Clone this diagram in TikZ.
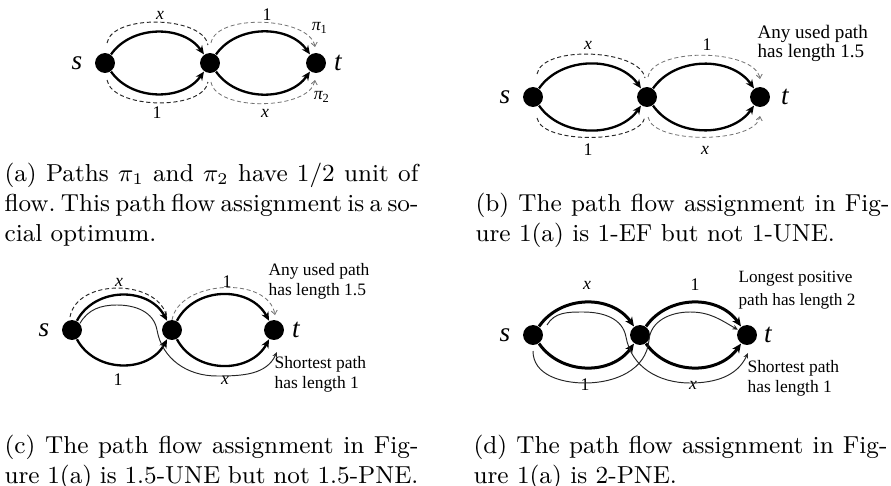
\documentclass[tikz,border=0pt]{standalone}
\usepackage{fontspec}
\newfontfamily\figfont{Liberation Serif}
\usetikzlibrary{arrows.meta,calc}
\setlength{\parindent}{0pt}

\begin{document}
\begin{tikzpicture}[x=0.3667pt,y=0.3667pt,
  vertex/.style={circle,fill=black,inner sep=0pt,minimum size=7.3pt},
  arc/.style={line width=0.85pt,-{Stealth[length=3.2pt,width=2.8pt]}},
  heavyarc/.style={line width=1.1pt,-{Stealth[length=3.4pt,width=3pt]}},
  dashfirst/.style={dash pattern=on 1.5pt off 1pt,line width=0.35pt,black!85},
  dashsecond/.style={dash pattern=on 1.5pt off 1pt,line width=0.3pt,black!55,
    -{Straight Barb[length=1.4pt,width=2.2pt]}},
  thinpath/.style={line width=0.35pt,black!85,-{Stealth[length=2pt,width=1.8pt]}},
  endlbl/.style={font=\figfont\itshape\fontsize{10}{12}\selectfont,inner sep=0pt},
  lbl/.style={font=\figfont\fontsize{6.5}{7}\selectfont,inner sep=0pt},
  note/.style={font=\figfont\fontsize{6.4}{7.3}\selectfont,align=left,inner sep=0pt,anchor=north west},
  capt/.style={font=\fontsize{9}{11}\selectfont,text width=151.8pt,align=justify,inner sep=0pt,anchor=base west}]
\useasboundingbox (0,0) rectangle (891,-486);

% ---------- (a) social optimum ----------
\node[vertex] (sa) at (105,-63) {};
\node[vertex] (ma) at (210,-63) {};
\node[vertex] (ta) at (316,-63) {};
\node[endlbl] (sla) at (77,-63) {s};
\node[endlbl] (tla) at (338,-63) {t};
\draw[arc] (sa) to[out=55,in=125] (ma);
\draw[arc] (sa) to[out=-55,in=-125] (ma);
\draw[arc] (ma) to[out=55,in=125] (ta);
\draw[arc] (ma) to[out=-55,in=-125] (ta);
\node[lbl] (xa1) at (160,-15) {\itshape x};
\node[lbl] (oa1) at (267,-15) {1};
\node[lbl] (oa2) at (157,-113) {1};
\node[lbl] (xa2) at (265,-113) {\itshape x};
% path pi_1 over the top, pi_2 underneath
\draw[dashfirst] ($(sa)+(2,20)$) to[out=80,in=100,looseness=0.75] ($(ma)+(-2,18)$);
\draw[dashsecond] ($(ma)+(1,20)$) to[out=80,in=100,looseness=0.75] ($(ta)+(-1,16)$);
\draw[dashfirst] ($(sa)+(2,-17)$) to[out=-80,in=-100,looseness=0.75] ($(ma)+(-2,-19)$);
\draw[dashsecond] ($(ma)+(1,-19)$) to[out=-80,in=-100,looseness=0.75] ($(ta)+(-1,-17)$);
\node[lbl] (pa1) at (320,-28) {{\itshape π}\textsubscript{1}};
\node[lbl] (pa2) at (322,-97) {{\itshape π}\textsubscript{2}};
\node[capt] (capa) at (4,-181.7) {\spaceskip=3pt plus 2.5pt minus 2pt\xspaceskip=3pt plus 2.5pt minus 2pt
  (a) Paths $\pi_1$ and $\pi_2$ have 1/2 unit of\linebreak
  flow. This path flow assignment is a so-\linebreak cial optimum.};

% ---------- (b) 1-EF ----------
\node[vertex] (sb) at (533,-97) {};
\node[vertex] (mb) at (647,-97) {};
\node[vertex] (tb) at (760,-97) {};
\node[endlbl] (slb) at (505,-97) {s};
\node[endlbl] (tlb) at (785,-97) {t};
\draw[arc] (sb) to[out=55,in=125] (mb);
\draw[arc] (sb) to[out=-55,in=-125] (mb);
\draw[arc] (mb) to[out=55,in=125] (tb);
\draw[arc] (mb) to[out=-55,in=-125] (tb);
\node[lbl] (xb1) at (588,-45) {\itshape x};
\node[lbl] (ob1) at (707,-45) {1};
\node[lbl] (ob2) at (588,-150) {1};
\node[lbl] (xb2) at (705,-150) {\itshape x};
\draw[dashfirst] ($(sb)+(4,23)$) to[out=80,in=100,looseness=0.7] ($(mb)+(-2,19)$);
\draw[dashsecond] ($(mb)+(1,20)$) to[out=80,in=100,looseness=0.7] ($(tb)+(0,18)$);
\draw[dashfirst] ($(sb)+(4,-21)$) to[out=-80,in=-100,looseness=0.64] ($(mb)+(-2,-20)$);
\draw[dashsecond] ($(mb)+(1,-20)$) to[out=-80,in=-100,looseness=0.64] ($(tb)+(0,-19)$);
\node[note,font=\figfont\fontsize{7}{6.8}\selectfont] (nb) at (757,-25) {Any used path\\has length 1.5};
\node[capt] (capb) at (475,-211.7) {(b) The path flow assignment in Fig-\linebreak
  ure 1(a) is 1-EF but not 1-UNE.};

% ---------- (c) 1.5-UNE ----------
\node[vertex] (sc) at (72,-330) {};
\node[vertex] (mc) at (172,-330) {};
\node[vertex] (tc) at (274,-330) {};
\node[endlbl] (slc) at (44,-330) {s};
\node[endlbl] (tlc) at (296,-330) {t};
\draw[arc] (sc) to[out=62,in=118,looseness=1.1] (mc);
\draw[arc] (sc) to[out=-62,in=-118,looseness=1.1] (mc);
\draw[arc] (mc) to[out=62,in=118,looseness=1.1] (tc);
\draw[arc] (mc) to[out=-62,in=-118,looseness=1.1] (tc);
\node[lbl] (xc1) at (119,-282) {\itshape x};
\node[lbl] (oc1) at (227,-282) {1};
\node[lbl] (oc2) at (118,-380) {1};
\node[lbl] (xc2) at (225,-380) {\itshape x};
\draw[dashfirst] ($(sc)+(-2,13)$) to[out=80,in=100,looseness=1.05] ($(mc)+(-5,12)$);
\draw[dashsecond] ($(mc)+(0,10)$) to[out=80,in=100,looseness=1] ($(tc)+(1,15)$);
% shortest path: upper x then lower x
\draw[thinpath] (sc.40) to[out=60,in=180] ($(sc)+(45,25)$)
  to[out=0,in=100] ($(mc)+(-15,0)$)
  to[out=-80,in=180] ($(mc)+(45,-46)$)
  to[out=0,in=-115] ($(tc)+(3,-22)$);
\node[note] (nc1) at (268,-263) {Any used path\\has length 1.5};
\node[note] (nc2) at (274,-356) {Shortest path\\has length 1};
\node[capt] (capc) at (4,-453) {(c) The path flow assignment in Fig-\linebreak
  ure 1(a) is 1.5-UNE but not 1.5-PNE.};

% ---------- (d) 2-PNE ----------
\node[vertex] (sd) at (533,-335) {};
\node[vertex] (md) at (640,-335) {};
\node[vertex] (td) at (747,-335) {};
\node[endlbl] (sld) at (505,-335) {s};
\node[endlbl] (tld) at (768,-335) {t};
\draw[heavyarc] (sd) to[out=55,in=125,looseness=1.05] (md);
\draw[heavyarc] (sd) to[out=-55,in=-125,looseness=1.05] (md);
\draw[heavyarc] (md) to[out=55,in=125,looseness=1.05] (td);
\draw[heavyarc] (md) to[out=-55,in=-125,looseness=1.05] (td);
\node[lbl] (xd1) at (587,-285) {\itshape x};
\node[lbl] (od1) at (695,-285) {1};
\node[lbl] (od2) at (585,-385) {1};
\node[lbl] (xd2) at (693,-385) {\itshape x};
% shortest path
\draw[thinpath] ($(sd)+(14,10)$) to[out=60,in=180] ($(sd)+(50,23)$)
  to[out=0,in=100] ($(md)+(-14,-2)$)
  to[out=-80,in=180] ($(md)+(50,-48)$)
  to[out=0,in=-115] ($(td)+(1,-18)$);
% longest positive path
\draw[thinpath] ($(sd)+(0,-16)$) to[out=-90,in=180] ($(sd)+(52,-48)$)
  to[out=0,in=-95] ($(md)+(9,-5)$)
  to[out=85,in=180] ($(md)+(50,23)$)
  to[out=0,in=150] (td.150);
\node[note,font=\figfont\fontsize{6.3}{8.1}\selectfont] (nd1) at (738,-271) {Longest positive\\path has length 2};
\node[note] (nd2) at (747,-360) {Shortest path\\has length 1};
\node[capt] (capd) at (473,-453) {(d) The path flow assignment in Fig-\linebreak
  ure 1(a) is 2-PNE.};
\end{tikzpicture}
\end{document}
